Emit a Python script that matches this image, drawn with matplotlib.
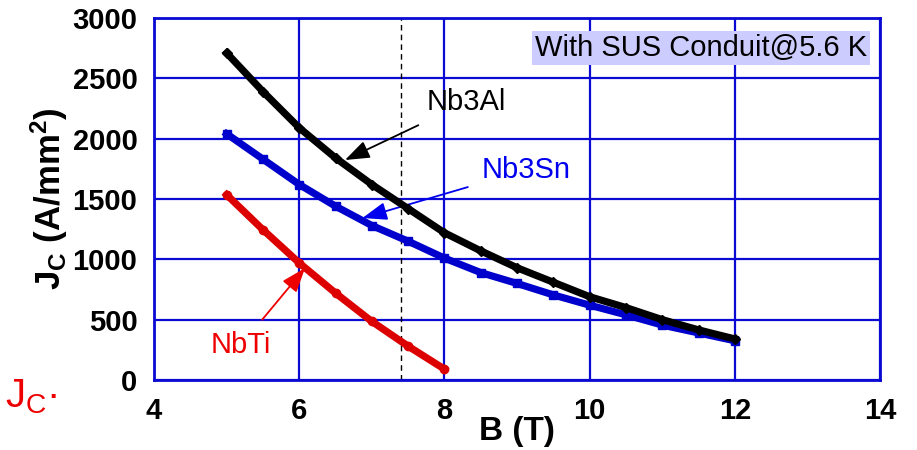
import matplotlib
matplotlib.use("Agg")
import matplotlib.pyplot as plt

plt.rcParams['font.family'] = ['Liberation Sans', 'DejaVu Sans']
plt.rcParams['mathtext.fontset'] = 'custom'
plt.rcParams['mathtext.rm'] = 'Liberation Sans'
plt.rcParams['mathtext.it'] = 'Liberation Sans'
plt.rcParams['mathtext.bf'] = 'Liberation Sans:bold'

# critical current density vs field, 0.5 T steps
b_field = [5.0, 5.5, 6.0, 6.5, 7.0, 7.5, 8.0, 8.5, 9.0, 9.5, 10.0, 10.5, 11.0, 11.5, 12.0]
jc_nb3al = [2710, 2390, 2090, 1840, 1620, 1420, 1220, 1070, 930, 810, 690, 600, 500, 415, 340]
jc_nb3sn = [2040, 1830, 1620, 1440, 1280, 1150, 1010, 890, 800, 705, 620, 540, 455, 390, 325]
b_nbti = [5.0, 5.5, 6.0, 6.5, 7.0, 7.5, 8.0]
jc_nbti = [1535, 1245, 970, 720, 485, 280, 90]

grid_blue = '#0a0ad2'

fig = plt.figure(figsize=(9.17, 4.5), dpi=100)
ax = fig.add_axes([0.168, 0.1556, 0.7917, 0.8044])

ax.plot(b_field, jc_nb3al, color='black', lw=5.2, marker='D', ms=5, zorder=4)
ax.plot(b_field, jc_nb3sn, color='#0000cc', lw=5.2, marker='s', ms=6, zorder=3)
ax.plot(b_nbti, jc_nbti, color='#dd0000', lw=5.2, marker='o', ms=6, zorder=3)

ax.axvline(7.4, color='black', lw=1, ls=(0, (4, 3)), zorder=2)

ax.set_xlim(4, 14)
ax.set_ylim(0, 3000)
ax.set_xticks([4, 6, 8, 10, 12, 14])
ax.set_yticks(range(0, 3001, 500))
ax.grid(True, color=grid_blue, lw=1.6)
ax.set_axisbelow(True)
for sp in ax.spines.values():
    sp.set_color(grid_blue)
    sp.set_linewidth(2)
ax.tick_params(length=0, labelsize=21, pad=12)
for lbl in ax.get_xticklabels() + ax.get_yticklabels():
    lbl.set_fontweight('bold')

ax.set_xlabel('B (T)', fontsize=24, fontweight='bold', labelpad=-6)
ax.set_ylabel(r'$\mathbf{J_C}$ (A/mm$^\mathbf{2}$)', fontsize=25, fontweight='bold', labelpad=2)

# curve labels with arrows
arrow = dict(arrowstyle='-|>,head_length=0.6,head_width=0.22', lw=1.3, mutation_scale=25, shrinkB=0)
ax.annotate('Nb3Al', xy=(6.63, 1823), xytext=(8.3, 2300), fontsize=21, ha='center', va='center',
            color='black', arrowprops=dict(arrow, color='black', shrinkA=10))
ax.annotate('Nb3Sn', xy=(6.87, 1342), xytext=(9.12, 1740), fontsize=21, ha='center', va='center',
            color='#0000ee', arrowprops=dict(arrow, color='#0000ee', shrinkA=8))
ax.annotate('NbTi', xy=(6.08, 928), xytext=(5.2, 290), fontsize=21, ha='center', va='center',
            color='#ee0000', arrowprops=dict(arrow, color='#ee0000', shrinkA=8))

ax.text(0.982, 0.918, 'With SUS Conduit@5.6 K', transform=ax.transAxes, fontsize=21,
        ha='right', va='center', zorder=5,
        bbox=dict(boxstyle='square,pad=0.1', fc='#ccccff', ec='none'))

fig.text(0.005, 0.118, r'J$_\mathrm{C}$·', fontsize=29, color='#ee0000', ha='left', va='center')

fig.savefig('out.png', dpi=100)
